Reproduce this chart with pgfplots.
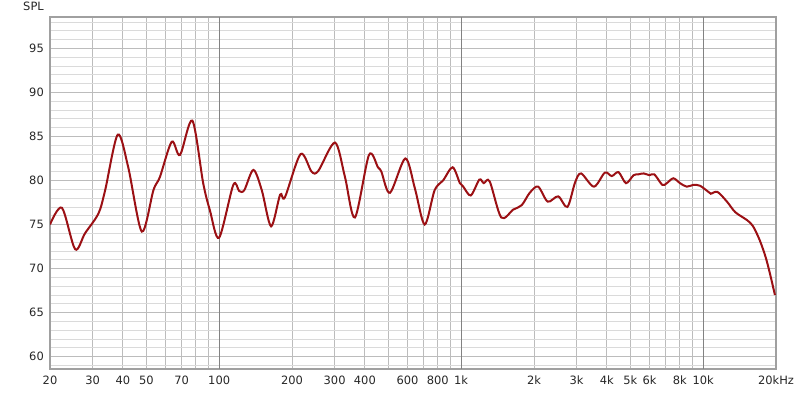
\documentclass[border=0pt]{standalone}
\usepackage{fontspec}
\setmainfont{DejaVu Sans}
\usepackage{pgfplots}
\pgfplotsset{compat=1.18}
\definecolor{curve}{RGB}{155,16,20}
\definecolor{gmaj}{RGB}{188,188,188}
\definecolor{gmin}{RGB}{218,218,218}
\definecolor{gdec}{RGB}{130,130,130}
\definecolor{frame}{RGB}{160,160,160}
\begin{document}
\fontsize{11.5}{13}\selectfont
\begin{tikzpicture}
\path[use as bounding box] (-50bp,-24bp) rectangle (750bp,369bp);
\begin{axis}[at={(0,0)}, anchor=south west, scale only axis,
  width=726bp, height=352bp,
  xmode=log, xmin=20, xmax=20000, ymin=58.6, ymax=98.56,
  xtick={20,30,40,50,60,70,80,90,100,200,300,400,500,600,700,800,900,1000,2000,3000,4000,5000,6000,7000,8000,9000,10000,20000},
  xticklabels={20,30,40,50,{},70,{},{},100,200,300,400,{},600,{},800,{},1k,2k,3k,4k,5k,6k,{},8k,{},10k,20kHz},
  extra x ticks={100,1000,10000},
  extra x tick labels={},
  extra x tick style={major grid style={draw=gdec, line width=0.8bp}},
  ytick={60,65,70,75,80,85,90,95},
  yticklabels={60,65,70,75,80,85,90,95},
  minor ytick={59,61,62,63,64,66,67,68,69,71,72,73,74,76,77,78,79,81,82,83,84,86,87,88,89,91,92,93,94,96,97,98},
  xmajorgrids, ymajorgrids, yminorgrids,
  major grid style={draw=gmaj, line width=0.8bp},
  minor grid style={draw=gmin, line width=0.8bp},
  major tick length=0pt, minor tick length=0pt,
  axis line style={draw=frame, line width=1.3bp},
  tick label style={font=\fontsize{11.5}{13}\selectfont, text=black!85},
  xticklabel style={anchor=north, inner sep=0pt, yshift=-7bp},
  yticklabel style={anchor=east, inner sep=0pt, xshift=-6bp},
  clip=true,
]
\addplot[curve, line width=2bp, smooth, tension=0.5] coordinates {
(20,75.0) (22.4,76.9) (25.4,72.2) (27.9,74.0) (31.7,76.25) (33.8,78.9)
(38.1,85.2) (42.1,81.5) (47.9,74.2) (53.5,78.9) (56.9,80.4) (63.7,84.4)
(68.9,82.9) (77.5,86.8) (85.9,79.7) (91.6,76.6) (99.9,73.5) (114.4,79.5)
(121,78.8) (127,78.9) (138.5,81.2) (150,78.9) (163.9,74.8) (178.7,78.4)
(187,78.1) (217,83.0) (241,81.0) (257,81.1) (301,84.3) (331,80.4)
(364,75.8) (416,82.9) (453,81.5) (468,81.0) (508,78.6) (588,82.5)
(644,79.1) (707,75.0) (777,78.9) (842,80.0) (922,81.5) (988,79.7)
(1020,79.3) (1096,78.3) (1189,80.1) (1240,79.7) (1312,79.9) (1464,75.8)
(1642,76.7) (1780,77.2) (1920,78.6) (2081,79.3) (2278,77.6) (2518,78.2)
(2748,77.0) (2958,79.8) (3131,80.8) (3538,79.3) (3926,80.9) (4190,80.5)
(4470,80.95) (4800,79.7) (5158,80.6) (5400,80.7) (5686,80.8) (6000,80.6)
(6284,80.7) (6780,79.5) (7080,79.7) (7531,80.25) (8020,79.7) (8550,79.3)
(9110,79.5) (9711,79.4) (10514,78.7) (10750,78.5) (11460,78.7) (12540,77.6)
(13580,76.4) (15180,75.5) (16080,74.8) (17140,73.2) (18120,71.3) (18890,69.4)
(19800,67.0)
};
\end{axis}
\node[anchor=base east, inner sep=0pt, text=black!85, font=\fontsize{11.5}{13}\selectfont]
  at (-6bp,358bp) {SPL};
\end{tikzpicture}
\end{document}
